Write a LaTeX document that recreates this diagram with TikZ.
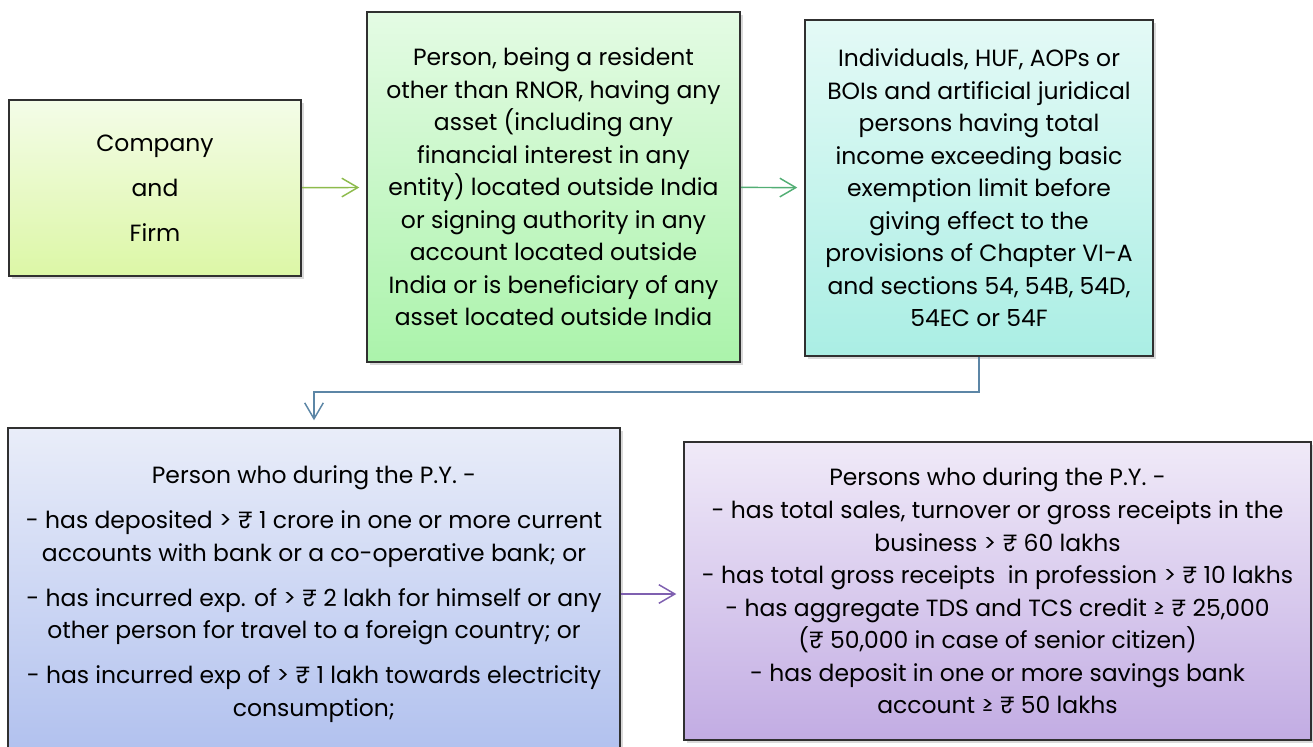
\documentclass[tikz,border=0pt]{standalone}
\usepackage{fontspec}
\setmainfont{Poppins}
\usepackage{xcolor}
\usetikzlibrary{arrows.meta,calc,shadows}

\definecolor{edgegray}{HTML}{303030}
\definecolor{cfTop}{HTML}{F4FCE8}
\definecolor{cfBot}{HTML}{DCF7A6}
\definecolor{prTop}{HTML}{E4FBE4}
\definecolor{prBot}{HTML}{ABF3AB}
\definecolor{inTop}{HTML}{E4FAF6}
\definecolor{inBot}{HTML}{AAEEE4}
\definecolor{pyTop}{HTML}{E9EDF9}
\definecolor{pyBot}{HTML}{B0C0EE}
\definecolor{peTop}{HTML}{F0EAF8}
\definecolor{peBot}{HTML}{C2ACE3}
\definecolor{arrOlive}{HTML}{8DBB4C}
\definecolor{arrGreen}{HTML}{52AE74}
\definecolor{arrSteel}{HTML}{5C86A6}
\definecolor{arrPurple}{HTML}{7F60B0}

\begin{document}
\begin{tikzpicture}[
  x=0.75pt, y=-0.75pt,
  font=\fontsize{17.6pt}{24.4pt}\selectfont,
  blk/.style={draw=edgegray, line width=1.6pt, align=center, inner sep=0pt,
    drop shadow={opacity=0.3, shadow xshift=2pt, shadow yshift=-2pt}},
  cfbox/.style={blk, top color=cfTop, bottom color=cfBot},
  prbox/.style={blk, top color=prTop, bottom color=prBot},
  inbox/.style={blk, top color=inTop, bottom color=inBot},
  pybox/.style={blk, top color=pyTop, bottom color=pyBot},
  pebox/.style={blk, top color=peTop, bottom color=peBot},
  arr/.style={-{Straight Barb[length=12pt, width=14pt]}, line width=1.1pt, shorten >=5pt}
]
\useasboundingbox (0,0) rectangle (1313,746);

\node[cfbox, minimum width=219pt, minimum height=132pt] (cf) at (155,188)
  {Company\\[9.4pt] and\\[9.4pt] Firm};
\node[prbox, minimum width=279.75pt, minimum height=262.5pt] (pr) at (553.5,187)
  {Person, being a resident\\ other than RNOR, having any\\ asset (including any\\
   financial interest in any\\ entity) located outside India\\ or signing authority in any\\
   account located outside\\ India or is beneficiary of any\\ asset located outside India};
\node[inbox, minimum width=261pt, minimum height=252pt] (ind) at (979,188)
  {Individuals, HUF, AOPs or\\ BOIs and artificial juridical\\ persons having total\\
   income exceeding basic\\ exemption limit before\\ giving effect to the\\
   provisions of Chapter VI-A\\ and sections 54, 54B, 54D,\\ 54EC or 54F};
\node[pybox, minimum width=459pt, minimum height=249pt] (py) at (314,594)
  {Person who during the P.Y. -\\[9.4pt]
   - has deposited > ₹ 1 crore in one or more current\\ accounts with bank or a co-operative bank; or\\[9.4pt]
   - has incurred exp. of > ₹ 2 lakh for himself or any\\ other person for travel to a foreign country; or\\[9.4pt]
   - has incurred exp of > ₹ 1 lakh towards electricity\\ consumption;};
\node[pebox, minimum width=470.25pt, minimum height=223.5pt] (pe) at (997.5,591)
  {Persons who during the P.Y. -\\
   - has total sales, turnover or gross receipts in the\\ business > ₹ 60 lakhs\\
   - has total gross receipts\ \ in profession > ₹ 10 lakhs\\
   - has aggregate TDS and TCS credit ≥ ₹ 25,000\\ (₹ 50,000 in case of senior citizen)\\
   - has deposit in one or more savings bank\\ account ≥ ₹ 50 lakhs};

\coordinate (bend) at ($(ind.south)!0.5!(py.north)$);
\draw[arr, arrOlive] (cf) -- (pr);
\draw[arr, arrGreen] (pr) -- (ind);
\draw[arr, arrSteel] (ind.south) |- (bend) -| (py.north);
\draw[arr, arrPurple] (py.east) -- (py.east -| pe.west);
\end{tikzpicture}
\end{document}
